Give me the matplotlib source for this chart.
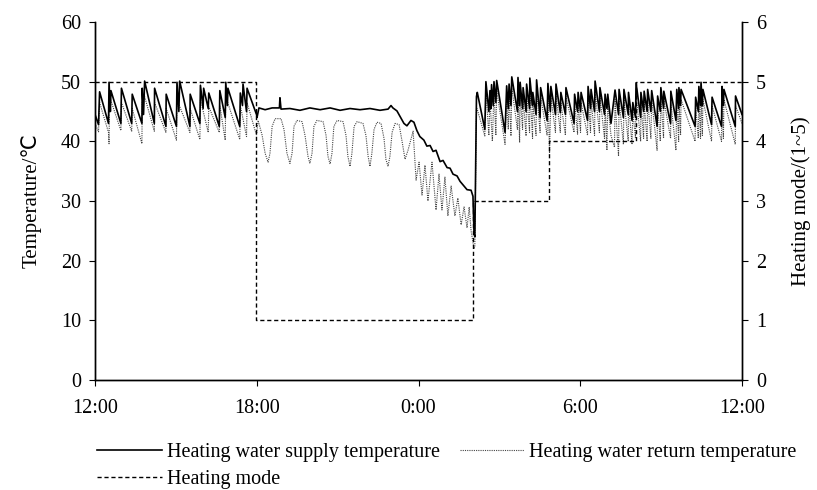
import matplotlib.pyplot as plt

# ==========================================================
# DATA (hours counted from 12:00)
# ==========================================================
t_supply = [
    0.00, 0.13, 0.17, 0.50, 0.52, 0.57, 0.59, 0.96, 0.98, 1.36, 1.38, 1.74, 1.75, 1.80, 1.84,
    2.20, 2.21, 2.63, 2.64, 3.02, 3.04, 3.11, 3.14, 3.52, 3.53, 3.89, 3.91, 4.01, 4.03, 4.20,
    4.22, 4.61, 4.63, 4.83, 4.85, 4.91, 4.93, 5.37, 5.39, 5.47, 5.49, 5.62, 5.64, 5.99,
    6.01, 6.08, 6.31, 6.57, 6.84, 6.86, 6.90, 7.23, 7.60, 7.97, 8.35, 8.72, 9.09, 9.46, 9.83,
    10.20, 10.57, 10.87, 10.98, 11.05, 11.20, 11.46, 11.57, 11.72, 11.83, 11.94, 12.05, 12.20,
    12.31, 12.43, 12.54, 12.65, 12.80, 12.91, 13.06, 13.17, 13.28, 13.43, 13.54, 13.69, 13.80,
    13.95, 14.02, 14.06, 14.09, 14.15,
    14.18, 14.46, 14.50, 14.61, 14.65, 14.69, 14.71, 14.77, 14.80, 14.87, 14.90, 15.21, 15.27,
    15.33, 15.36, 15.43, 15.46, 15.67, 15.69, 15.75, 15.77, 15.86, 15.88, 15.99, 16.01, 16.12,
    16.13, 16.23, 16.24, 16.36, 16.38, 16.51, 16.53, 16.77, 16.80, 16.89, 16.91, 17.08, 17.10,
    17.26, 17.28, 17.45, 17.47, 17.77, 17.79, 17.90, 17.92, 18.01, 18.03, 18.27, 18.29, 18.38,
    18.40, 18.53, 18.55, 18.71, 18.73, 18.90, 18.92, 18.99, 19.02, 19.14, 19.29, 19.42, 19.44,
    19.60, 19.62, 19.78, 19.79, 19.92, 19.95, 20.05, 20.07, 20.24, 20.25, 20.35, 20.37, 20.48,
    20.50, 20.62, 20.65, 20.85, 20.87, 20.97, 20.99, 21.09, 21.10, 21.35, 21.36, 21.55, 21.58,
    21.65, 21.66, 21.72, 21.74, 22.26, 22.28, 22.38, 22.40, 22.46, 22.48, 22.53, 22.55, 22.87,
    22.89, 23.24, 23.26, 23.31, 23.33, 23.75, 23.76, 24.00,
]
supply_temp = [
    44.5, 42.8, 48.3, 43.0, 49.9, 45.0, 48.5, 43.0, 48.9, 43.0, 47.9, 43.0, 48.9, 44.5, 50.1,
    43.0, 48.9, 42.5, 47.9, 42.5, 49.9, 45.0, 50.1, 42.5, 47.9, 43.0, 49.4, 45.5, 48.9, 45.5,
    48.1, 42.5, 48.5, 44.0, 49.9, 46.0, 48.9, 42.5, 48.1, 46.0, 49.6, 45.0, 48.9, 44.5,
    44.0, 45.6, 45.3, 45.6, 45.6, 47.3, 45.4, 45.5, 45.2, 45.6, 45.3, 45.6, 45.2, 45.5, 45.3,
    45.5, 45.2, 45.4, 46.0, 45.6, 45.1, 43.0, 42.6, 43.5, 43.2, 41.8, 40.8, 40.2,
    39.2, 39.3, 38.3, 38.5, 36.6, 36.8, 35.6, 35.5, 34.5, 34.2, 33.3, 32.5, 31.9,
    31.8, 30.8, 24.5, 24.0, 47.5,
    48.2, 42.0, 50.0, 45.0, 48.5, 45.5, 49.5, 46.0, 50.0, 46.5, 50.2, 41.5, 49.3,
    45.5, 49.6, 46.0, 50.8, 45.0, 50.7, 46.0, 49.9, 45.5, 49.0, 45.0, 49.6, 45.5,
    50.6, 46.0, 48.2, 44.5, 50.3, 44.0, 49.0, 43.5, 49.7, 45.0, 49.2, 44.5, 49.6,
    44.8, 48.2, 44.5, 49.0, 43.0, 47.9, 45.0, 48.2, 45.0, 48.2, 43.5, 49.2, 45.5,
    48.7, 45.0, 50.1, 45.0, 49.0, 44.5, 47.9, 45.5, 47.9, 43.0, 48.6, 44.5, 48.7,
    44.0, 48.7, 44.5, 48.2, 43.5, 46.5, 44.0, 49.8, 44.0, 48.2, 45.0, 48.4, 45.0,
    48.7, 45.0, 48.5, 42.5, 47.6, 45.0, 49.0, 45.5, 48.4, 43.0, 48.4, 43.5, 48.7,
    45.5, 49.0, 46.0, 48.7, 42.5, 47.4, 45.0, 49.2, 46.0, 49.9, 46.0, 48.7, 42.8,
    47.4, 42.5, 49.2, 46.0, 48.7, 42.5, 47.6, 44.5,
]

t_return = [
    0.00, 0.13, 0.17, 0.50, 0.52, 0.54, 0.96, 0.98, 1.36, 1.38, 1.74, 1.75, 1.84, 2.20, 2.21,
    2.63, 2.64, 3.02, 3.04, 3.52, 3.53, 3.89, 3.91, 4.20, 4.22, 4.61, 4.63, 4.83, 4.85, 5.37,
    5.39, 5.62, 5.64, 5.99,
    6.05, 6.20, 6.31, 6.42, 6.49, 6.57, 6.68, 6.90, 7.01, 7.12, 7.23, 7.31, 7.38, 7.49, 7.68,
    7.79, 7.90, 7.97, 8.05, 8.12, 8.23, 8.46, 8.57, 8.64, 8.72, 8.79, 8.86, 8.98, 9.20, 9.31,
    9.38, 9.46, 9.53, 9.61, 9.72, 9.94, 10.05, 10.13, 10.20, 10.27, 10.35, 10.46, 10.61, 10.72,
    10.79, 10.87, 10.94, 11.02, 11.13, 11.28, 11.39, 11.50, 11.61, 11.80, 11.91, 12.02, 12.13,
    12.24, 12.35, 12.50, 12.65, 12.76, 12.87, 12.98, 13.09, 13.21, 13.35, 13.46, 13.58, 13.69,
    13.80, 13.88, 13.95, 14.06, 14.09, 14.15,
    14.17, 14.46, 14.50, 14.61, 14.65, 14.74, 14.80, 14.87, 14.90, 15.21, 15.27, 15.33, 15.36,
    15.43, 15.46, 15.67, 15.69, 15.75, 15.77, 15.86, 15.88, 15.99, 16.01, 16.12, 16.13, 16.23,
    16.24, 16.36, 16.38, 16.51, 16.53, 16.77, 16.80, 16.86, 16.91, 17.08, 17.10, 17.26, 17.28,
    17.45, 17.47, 17.77, 17.79, 17.90, 17.92, 18.01, 18.03, 18.27, 18.29, 18.38, 18.40, 18.53,
    18.55, 18.71, 18.73, 18.90, 18.92, 18.99, 19.02, 19.14, 19.27, 19.29, 19.42, 19.44, 19.60,
    19.62, 19.78, 19.79, 19.92, 19.95, 20.05, 20.07, 20.24, 20.25, 20.35, 20.37, 20.48, 20.50,
    20.62, 20.65, 20.85, 20.87, 20.97, 20.99, 21.09, 21.10, 21.35, 21.36, 21.55, 21.58, 21.65,
    21.66, 21.72, 21.74, 22.26, 22.28, 22.38, 22.40, 22.46, 22.48, 22.53, 22.55, 22.87, 22.89,
    23.24, 23.26, 23.31, 23.33, 23.75, 23.76, 24.00,
]
return_temp = [
    43.0, 41.6, 46.5, 41.5, 39.6, 47.5, 41.8, 46.5, 41.7, 45.5, 39.6, 46.5, 47.5, 41.7, 46.5,
    41.5, 45.5, 40.2, 47.0, 41.5, 45.5, 40.3, 47.0, 41.5, 45.8, 41.5, 46.0, 40.2, 47.5, 40.3,
    46.0, 40.8, 46.5, 41.0,
    43.5, 41.0, 38.0, 36.5, 38.0, 42.5, 43.8, 43.8, 42.0, 38.0, 36.3, 38.0, 42.5, 43.5, 43.3,
    41.0, 37.5, 36.3, 38.0, 42.5, 43.5, 43.3, 41.0, 37.5, 36.2, 38.0, 42.5, 43.5, 43.3, 41.0,
    37.5, 35.8, 38.0, 42.5, 43.3, 43.0, 41.0, 37.5, 35.8, 38.0, 42.0, 43.2, 43.0, 40.5,
    37.0, 35.8, 37.5, 41.5, 43.0, 42.8, 40.0, 37.0, 38.5, 41.7, 33.5, 36.5, 31.0,
    36.0, 30.0, 36.5, 28.5, 34.5, 28.5, 34.0, 27.5, 32.5, 27.5, 30.5, 26.0, 29.0,
    25.5, 29.0, 25.0, 22.0, 22.5, 45.5,
    45.5, 40.9, 48.5, 41.0, 47.0, 40.0, 48.5, 41.0, 48.5, 39.5, 47.5, 42.0, 48.0,
    40.9, 49.0, 42.0, 49.0, 39.8, 48.0, 42.0, 47.5, 40.9, 48.0, 41.5, 49.0, 40.5,
    46.5, 41.0, 48.5, 41.5, 47.5, 41.0, 48.0, 38.0, 47.5, 41.5, 48.0, 41.5, 46.5,
    41.0, 47.5, 41.5, 46.5, 41.2, 46.5, 41.5, 46.5, 41.0, 47.5, 41.5, 47.0, 41.0,
    48.5, 41.5, 47.5, 40.5, 46.5, 38.5, 46.5, 41.0, 39.0, 47.0, 37.5, 47.0, 39.5,
    47.0, 40.0, 46.5, 39.5, 45.0, 40.5, 48.0, 40.0, 46.5, 40.5, 46.5, 40.0, 47.0,
    40.5, 47.0, 38.5, 46.0, 40.0, 47.5, 40.5, 47.0, 40.5, 46.5, 38.5, 47.0, 40.0,
    47.5, 41.0, 47.0, 40.0, 46.0, 40.5, 47.5, 40.5, 48.0, 41.0, 47.0, 40.0, 46.0,
    40.0, 47.5, 40.5, 47.0, 39.5, 46.0, 43.0,
]

t_mode = [0.00, 5.97, 14.02, 16.84, 20.07, 24.00]
heating_mode = [5, 1, 3, 4, 5, 5]

xticks = [0, 6, 12, 18, 24]
xtick_labels = ["12:00", "18:00", "0:00", "6:00", "12:00"]

# ==========================================================
# FIGURE
# ==========================================================
plt.rcParams['font.family'] = ['Liberation Serif', 'DejaVu Sans']
plt.rcParams['font.size'] = 14.5

fig = plt.figure(figsize=(8.17, 4.90), dpi=100)
ax = fig.add_axes([0.1163, 0.2245, 0.7919, 0.7306])
ax2 = ax.twinx()

l_mode, = ax2.plot(t_mode, heating_mode, drawstyle='steps-post', color='black',
                   linestyle=(0, (3, 2)), linewidth=1.0, label='Heating mode')
l_ret, = ax.plot(t_return, return_temp, color='#444444', linestyle=(0, (1, 1)),
                 linewidth=0.8, label='Heating water return temperature')
l_sup, = ax.plot(t_supply, supply_temp, color='black', linewidth=1.2,
                 label='Heating water supply temperature')

ax.set_xlim(0, 24)
ax.set_ylim(0, 60)
ax2.set_ylim(0, 6)
ax.set_xticks(xticks)
ax.set_xticklabels(xtick_labels)
ax.set_yticks(range(0, 61, 10))
ax2.set_yticks(range(0, 7))

ax.set_ylabel("Temperature/\u2103", fontsize=15, labelpad=14)
ax2.set_ylabel("Heating mode/(1~5)", fontsize=15, labelpad=18)

for a in (ax, ax2):
    a.spines['top'].set_visible(False)
    a.tick_params(direction='out', length=4, width=0.8, pad=6)
    for s in a.spines.values():
        s.set_linewidth(1.0)
ax.tick_params(axis='x', pad=10)

# Legend below the plot, two columns (supply / mode | return)
fig.legend([l_sup, l_mode, l_ret],
           [l_sup.get_label(), l_mode.get_label(), l_ret.get_label()],
           ncol=2, loc='upper left', bbox_to_anchor=(0.119, 0.097),
           frameon=False, fontsize=14.5, handlelength=3.2, handletextpad=0.25,
           columnspacing=1.0, labelspacing=0.4, borderaxespad=0, borderpad=0)

plt.savefig("out.png", dpi=100)
